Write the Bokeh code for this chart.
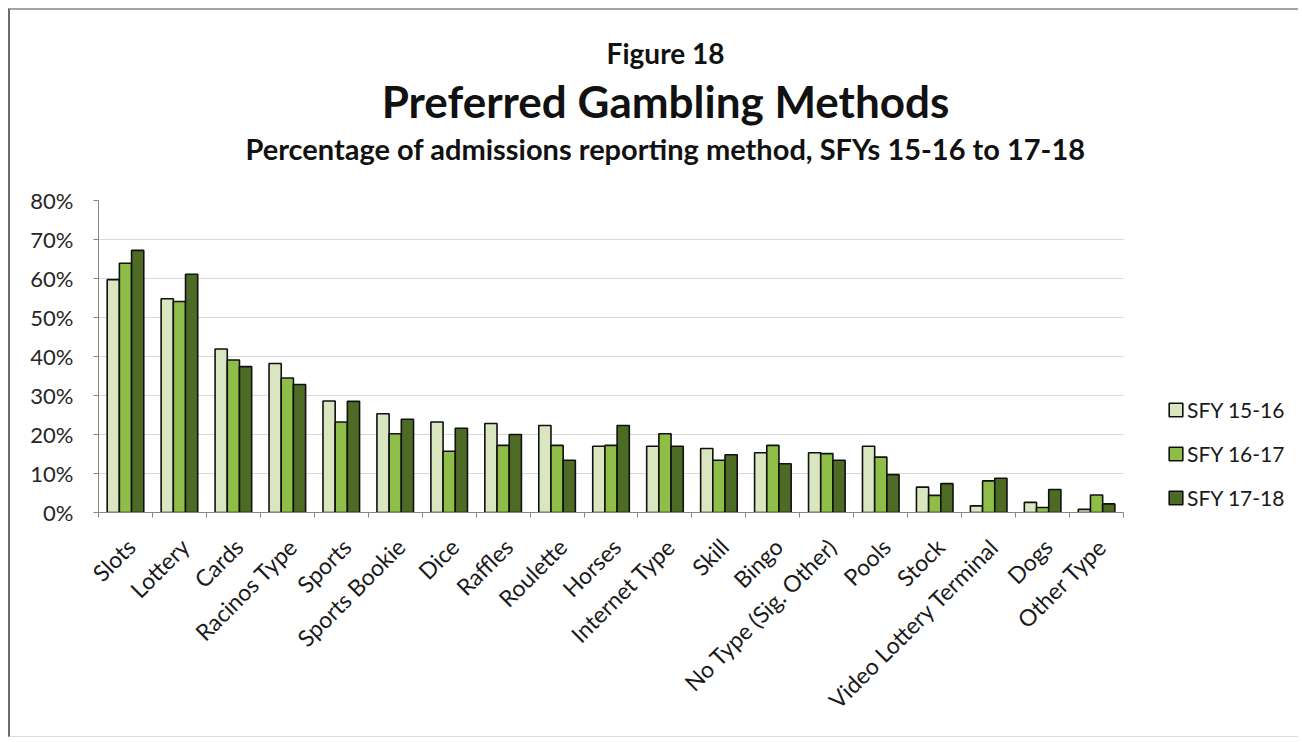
from math import pi
from bokeh.plotting import figure
from bokeh.models import (ColumnDataSource, Range1d, LinearAxis, FixedTicker, PrintfTickFormatter,
                          CustomJSTickFormatter, Legend, LegendItem, Label)
from bokeh.transform import dodge
from bokeh.embed import file_html
from bokeh.resources import INLINE

categories = ["Slots", "Lottery", "Cards", "Racinos Type", "Sports", "Sports Bookie", "Dice",
              "Raffles", "Roulette", "Horses", "Internet Type", "Skill", "Bingo",
              "No Type (Sig. Other)", "Pools", "Stock", "Video Lottery Terminal", "Dogs",
              "Other Type"]
sfy_15_16 = [59.7, 54.8, 41.9, 38.2, 28.6, 25.3, 23.2, 22.8, 22.3, 17.0, 17.0, 16.4, 15.3,
             15.3, 17.0, 6.5, 1.7, 2.6, 0.8]
sfy_16_17 = [63.9, 54.1, 39.1, 34.5, 23.2, 20.2, 15.7, 17.2, 17.2, 17.2, 20.2, 13.4, 17.2,
             15.1, 14.2, 4.4, 8.1, 1.3, 4.5]
sfy_17_18 = [67.2, 61.1, 37.4, 32.8, 28.5, 23.9, 21.6, 20.0, 13.4, 22.3, 17.0, 14.8, 12.5,
             13.4, 9.7, 7.4, 8.8, 5.9, 2.2]
series_names = ["SFY 15-16", "SFY 16-17", "SFY 17-18"]
y_ticks = [0, 10, 20, 30, 40, 50, 60, 70, 80]
grid_vals = [10, 20, 30, 40, 50, 60, 70]
title_texts = ["Figure 18", "Preferred Gambling Methods",
               "Percentage of admissions reporting method, SFYs 15-16 to 17-18"]

colors = ["#d9e6bf", "#8fbe48", "#4e6b26"]
FONT = "Lato"

n = len(categories)
centers = [i + 0.5 for i in range(n)]
source = ColumnDataSource(dict(x=centers, cat=categories, a=sfy_15_16, b=sfy_16_17, c=sfy_17_18))

# the frame extends past the bar area so that titles and legend sit inside it
p = figure(width=1290, height=729, x_range=Range1d(0, 22.28), y_range=Range1d(0, 128.7),
           output_backend="svg", toolbar_location=None,
           x_axis_location=None, y_axis_location=None,
           min_border_left=88, min_border_right=0, min_border_top=0, min_border_bottom=227)
p.outline_line_color = None
p.background_fill_color = "white"
p.border_fill_color = "white"
p.styles = {"margin-left": "8px", "margin-top": "8px",
            "border-left": "2px solid #6b6b6b", "border-top": "2px solid #a3a3a3",
            "border-bottom": "1px solid #dcdcdc"}
p.xgrid.visible = False
p.ygrid.visible = False

# gridlines over the category span only
p.segment(x0=[0] * len(grid_vals), x1=[n] * len(grid_vals), y0=grid_vals, y1=grid_vals,
          line_color="#d9d9d9", line_width=1)

# y axis
yax = LinearAxis(ticker=FixedTicker(ticks=y_ticks), formatter=PrintfTickFormatter(format="%d%%"),
                 bounds=(0, 80))
yax.axis_line_color = "#868686"
yax.major_tick_line_color = "#868686"
yax.major_tick_out = 5
yax.major_tick_in = 0
yax.minor_tick_out = 0
yax.minor_tick_in = 0
yax.major_label_standoff = 20
yax.major_label_text_font = FONT
yax.major_label_text_font_size = "22px"
yax.major_label_text_color = "#262626"
p.add_layout(yax, "left")

# boundary tick axis (Excel-style ticks between categories)
tax = LinearAxis(ticker=FixedTicker(ticks=list(range(n + 1))),
                 formatter=CustomJSTickFormatter(code="return ''"), bounds=(0, n))
tax.major_label_text_font_size = "1px"
tax.major_label_standoff = 0
tax.axis_line_color = "#868686"
tax.major_tick_line_color = "#868686"
tax.major_tick_out = 5
tax.major_tick_in = 0
tax.minor_tick_out = 0
tax.minor_tick_in = 0
p.add_layout(tax, "below")

# category label axis
cax = LinearAxis(ticker=FixedTicker(ticks=[c + 0.1 for c in centers]),
                 formatter=CustomJSTickFormatter(args=dict(cats=categories),
                                                 code="return cats[Math.floor(tick)] || ''"))
cax.axis_line_color = None
cax.major_tick_line_color = None
cax.major_tick_out = 0
cax.major_tick_in = 0
cax.minor_tick_out = 0
cax.minor_tick_in = 0
cax.major_label_orientation = pi / 4
cax.major_label_standoff = 25
cax.major_label_text_font = FONT
cax.major_label_text_font_size = "23px"
cax.major_label_text_color = "#1a1a1a"
p.add_layout(cax, "below")

bw = 0.226
renderers = []
for col, off, color in zip(["a", "b", "c"], [-bw, 0.0, bw], colors):
    r = p.vbar(x=dodge("x", off), top=col, width=bw, bottom=0,
               source=source, fill_color=color, line_color="#111111", line_width=1.6)
    renderers.append(r)

legend = Legend(items=[LegendItem(label=s, renderers=[r]) for s, r in zip(series_names, renderers)],
                location=(1069, 2), orientation="vertical", glyph_width=17, glyph_height=17,
                label_height=26, spacing=18, padding=0, margin=0, label_standoff=3,
                border_line_color=None, background_fill_alpha=0,
                label_text_font=FONT, label_text_font_size="21px", label_text_color="#1a1a1a")
p.add_layout(legend, "center")

# titles
for txt, yv, size in zip(title_texts, [117.9, 105.6, 93.3], ["28px", "44px", "29px"]):
    p.add_layout(Label(x=10.51, y=yv, text=txt, text_align="center", text_baseline="middle",
                       text_font=FONT, text_font_style="bold", text_font_size=size,
                       text_color="#111111"))

open("out.html", "w").write(file_html(p, INLINE))
